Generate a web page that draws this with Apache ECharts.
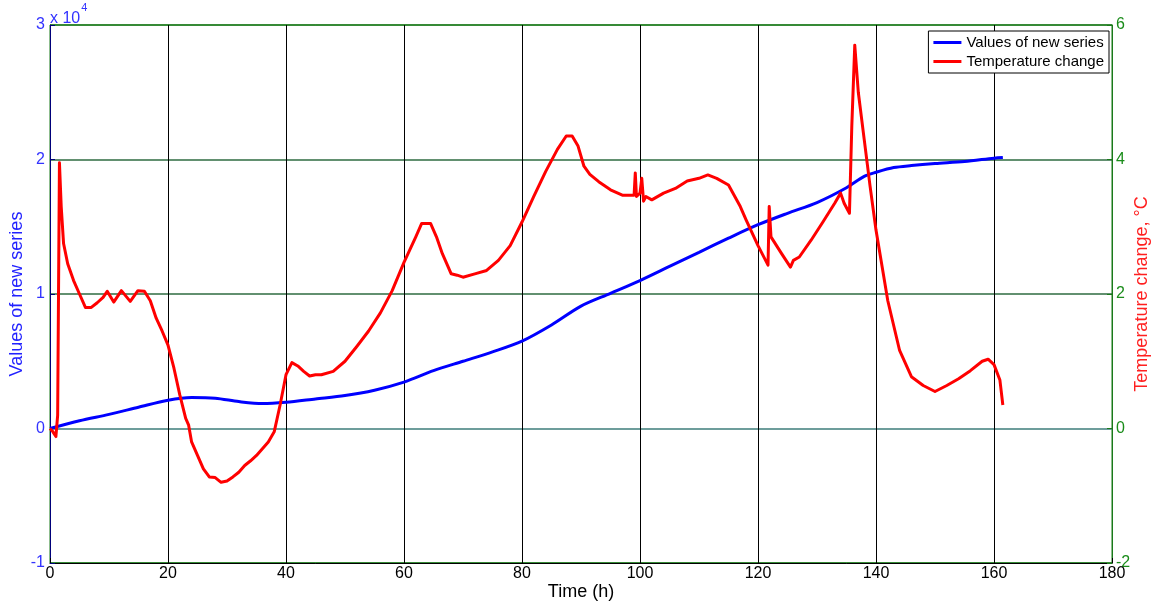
<!DOCTYPE html>
<html>
<head>
<meta charset="utf-8">
<script src="https://cdn.jsdelivr.net/npm/echarts@6/dist/echarts.min.js"></script>
<style>
  html, body { margin: 0; padding: 0; background: #fff; }
  #chart { width: 1159px; height: 607px; }
</style>
</head>
<body>
<div id="chart"></div>
<script>
// ---- Data ----
var seriesNames = ['Values of new series', 'Temperature change'];

var blueX = [0, 5, 10, 15, 20, 24, 28, 32, 36, 40, 45, 50, 55, 60, 65, 70, 75, 80, 85, 90, 95, 100, 105, 110, 115, 120, 125, 130, 135, 138, 140, 143, 146, 150, 155, 160, 161.5];
var blueY = [0, 580, 1050, 1580, 2100, 2300, 2250, 2000, 1850, 1950, 2200, 2450, 2850, 3450, 4300, 5000, 5700, 6500, 7700, 9100, 10050, 11000, 12050, 13100, 14150, 15150, 16000, 16800, 17900, 18750, 19050, 19400, 19550, 19700, 19850, 20100, 20150];

var redX = [0, 0.5, 1, 1.3, 1.6, 1.9, 2.3, 3, 4, 5, 6, 7, 8, 9, 9.7, 10.8, 12.1, 13.6, 14.9, 16, 17, 18, 19, 20, 21, 22, 23, 23.5, 24, 25, 26, 27, 28, 29, 30, 31, 32, 33, 34, 35, 36, 37, 38, 39, 40, 41, 42, 43, 44, 45, 46, 48, 50, 52, 54, 56, 58, 60, 62, 63, 64.5, 65.5, 66.5, 68, 69, 70, 72, 74, 76, 78, 80, 82, 84, 86, 87.5, 88.5, 89.5, 90.5, 91.5, 93, 95, 97, 99, 99.2, 99.4, 100, 100.3, 100.6, 101, 102, 104, 106, 108, 110, 111.5, 113, 115, 117, 118, 120, 121.7, 121.9, 122.2, 124, 125.5, 126, 127, 129, 131, 133, 134, 134.6, 135.5, 135.9, 136.4, 137, 138, 139, 140, 142, 144, 146, 148, 150, 152, 154, 156, 158, 159, 160, 161, 161.5];
var redY = [0, -0.05, -0.12, 0.2, 3.95, 3.3, 2.75, 2.45, 2.2, 2.0, 1.8, 1.8, 1.87, 1.95, 2.04, 1.88, 2.05, 1.89, 2.05, 2.04, 1.9, 1.64, 1.45, 1.24, 0.9, 0.5, 0.15, 0.05, -0.2, -0.4, -0.6, -0.72, -0.73, -0.8, -0.78, -0.72, -0.65, -0.55, -0.48, -0.4, -0.3, -0.2, -0.05, 0.35, 0.8, 0.98, 0.93, 0.85, 0.78, 0.8, 0.8, 0.85, 1.0, 1.22, 1.45, 1.72, 2.05, 2.47, 2.85, 3.05, 3.05, 2.85, 2.6, 2.3, 2.28, 2.25, 2.3, 2.35, 2.5, 2.72, 3.07, 3.45, 3.82, 4.15, 4.35, 4.35, 4.2, 3.9, 3.78, 3.67, 3.55, 3.47, 3.47, 3.8, 3.45, 3.5, 3.72, 3.38, 3.45, 3.4, 3.5, 3.57, 3.68, 3.72, 3.77, 3.72, 3.62, 3.3, 3.1, 2.72, 2.43, 3.3, 2.85, 2.6, 2.4, 2.5, 2.55, 2.8, 3.07, 3.35, 3.5, 3.35, 3.2, 4.5, 5.7, 5.0, 4.3, 3.6, 2.95, 1.9, 1.16, 0.77, 0.64, 0.55, 0.64, 0.74, 0.86, 1.0, 1.03, 0.95, 0.72, 0.35];

var xTicks = [0, 20, 40, 60, 80, 100, 120, 140, 160, 180];
var leftTicks = [-10000, 0, 10000, 20000, 30000];
var rightTicks = [-2, 0, 2, 4, 6];

function zip(xs, ys) { return xs.map(function (x, i) { return [x, ys[i]]; }); }

var FONT = '"Liberation Sans", Arial, sans-serif';
var chart = echarts.init(document.getElementById('chart'), null, { renderer: 'canvas' });

chart.setOption({
  animation: false,
  backgroundColor: '#fff',
  grid: {
    left: 50, top: 25, width: 1062, height: 538,
    containLabel: false, outerBoundsMode: 'none',
    show: true, borderColor: '#1a7a1a', borderWidth: 1, backgroundColor: 'transparent'
  },
  legend: {
    data: seriesNames,
    orient: 'vertical',
    right: 50, top: 31,
    backgroundColor: '#fff',
    borderColor: '#000', borderWidth: 1,
    padding: [4, 5, 4, 5],
    itemGap: 4,
    itemWidth: 28, itemHeight: 3,
    icon: 'rect',
    textStyle: { fontFamily: FONT, fontSize: 15, color: '#000' }
  },
  graphic: [{
    type: 'text', left: 50, top: 2,
    style: {
      text: '{a|x 10}{b|4}',
      rich: {
        a: { fontFamily: FONT, fontSize: 16, fill: '#3333ff', verticalAlign: 'bottom', padding: [9, 0, 0, 0] },
        b: { fontFamily: FONT, fontSize: 11, fill: '#3333ff', verticalAlign: 'top', padding: [0, 0, 9, 1] }
      }
    }
  }],
  xAxis: {
    type: 'value', min: 0, max: 180, interval: 20,
    name: 'Time (h)', nameLocation: 'middle', nameGap: 20, nameMoveOverlap: false,
    nameTextStyle: { fontFamily: FONT, fontSize: 18, color: '#000' },
    axisLine: { show: true, onZero: false, lineStyle: { color: '#000', width: 1 } },
    axisTick: { show: true, inside: true, length: 5, lineStyle: { color: '#000' } },
    axisLabel: { fontFamily: FONT, fontSize: 16, color: '#000', margin: 3 },
    splitLine: { show: true, lineStyle: { color: '#000', width: 1 } }
  },
  yAxis: [{
    type: 'value', min: -10000, max: 30000, interval: 10000, position: 'left',
    name: 'Values of new series', nameLocation: 'middle', nameGap: 24, nameMoveOverlap: false,
    nameTextStyle: { fontFamily: FONT, fontSize: 18, color: '#2222ff' },
    axisLine: { show: true, onZero: false, lineStyle: { color: '#00007a', width: 1 } },
    axisTick: { show: true, inside: true, length: 5, lineStyle: { color: '#00007a' } },
    axisLabel: { fontFamily: FONT, fontSize: 16, color: '#3333ff', margin: 5,
      formatter: function (v) { return String(v / 10000); } },
    splitLine: { show: true, lineStyle: { color: ['#1a7a1a', '#3d7d7a', '#2e6b40', '#2e6b40', '#1a7a1a'], width: 1.5 } }
  }, {
    type: 'value', min: -2, max: 6, interval: 2, position: 'right',
    name: 'Temperature change, °C', nameLocation: 'middle', nameGap: 21, nameMoveOverlap: false,
    nameTextStyle: { fontFamily: FONT, fontSize: 18, color: '#ff2020' },
    axisLine: { show: true, onZero: false, lineStyle: { color: '#1a7a1a', width: 1 } },
    axisTick: { show: true, inside: true, length: 5, lineStyle: { color: '#1a7a1a' } },
    axisLabel: { fontFamily: FONT, fontSize: 16, color: '#1a8c1a', margin: 4 },
    splitLine: { show: false }
  }],
  series: [{
    name: seriesNames[0], type: 'line', yAxisIndex: 0,
    data: zip(blueX, blueY), smooth: 0.3, showSymbol: false,
    lineStyle: { color: '#0000ff', width: 3 }, itemStyle: { color: '#0000ff' }
  }, {
    name: seriesNames[1], type: 'line', yAxisIndex: 1,
    data: zip(redX, redY), showSymbol: false,
    lineStyle: { color: '#ff0000', width: 3, join: 'round' }, itemStyle: { color: '#ff0000' }
  }]
});
</script>
</body>
</html>
